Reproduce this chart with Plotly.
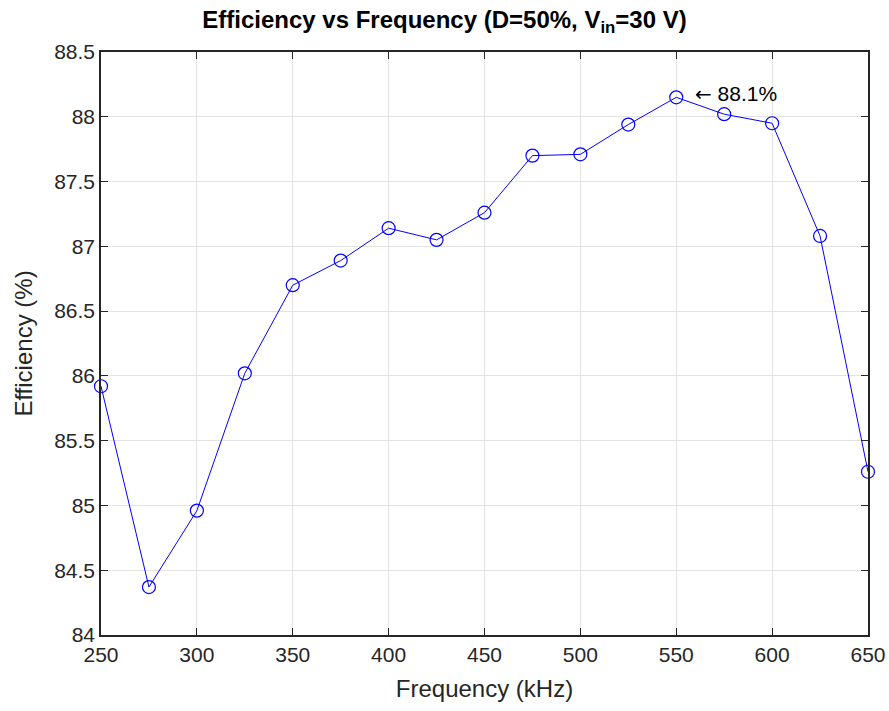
import plotly.graph_objects as go

# Measured converter efficiency at D = 50 %, Vin = 30 V
freq_khz = [250, 275, 300, 325, 350, 375, 400, 425, 450, 475, 500, 525, 550, 575, 600, 625, 650]
efficiency = [85.92, 84.37, 84.96, 86.02, 86.70, 86.89, 87.14, 87.05, 87.26, 87.70, 87.71,
              87.94, 88.15, 88.02, 87.95, 87.08, 85.26]

x_ticks = [250, 300, 350, 400, 450, 500, 550, 600, 650]
y_ticks = [84, 84.5, 85, 85.5, 86, 86.5, 87, 87.5, 88, 88.5]
y_tick_text = ["84", "84.5", "85", "85.5", "86", "86.5", "87", "87.5", "88", "88.5"]

peak_idx = efficiency.index(max(efficiency))
peak_label = '<span style="font-family:DejaVu Sans;font-size:20px">\u2190</span> 88.1%'

font_family = "Liberation Sans, Arial, sans-serif"
axis_color = "#262626"
grid_color = "#e3e3e3"

fig = go.Figure()
fig.add_trace(go.Scatter(
    x=freq_khz,
    y=efficiency,
    mode="lines+markers",
    line=dict(color="#0000ff", width=1),
    marker=dict(symbol="circle-open", size=13, color="#0000ff", line=dict(width=1.2)),
    showlegend=False,
    cliponaxis=False,
))

fig.add_annotation(
    x=freq_khz[peak_idx], y=efficiency[peak_idx],
    text=peak_label, showarrow=False,
    xanchor="left", yanchor="middle", xshift=17, yshift=3,
    font=dict(family=font_family, size=21, color="#000000"),
)

axis_common = dict(
    showline=True, linecolor=axis_color, linewidth=1.5, mirror="ticks",
    ticks="inside", ticklen=7, tickwidth=1.2, tickcolor=axis_color,
    showgrid=True, gridcolor=grid_color, gridwidth=1,
    zeroline=False, automargin=False,
    tickfont=dict(family=font_family, size=21, color=axis_color),
)

fig.update_layout(
    width=889, height=711,
    margin=dict(l=101, r=21, t=52, b=76),
    paper_bgcolor="white", plot_bgcolor="white",
    title=dict(
        text="<b>Efficiency vs Frequency (D=50%, V<sub>in</sub>=30 V)</b>",
        x=0.5, xanchor="center", y=0.972, yanchor="middle",
        font=dict(family=font_family, size=24, color="#000000"),
    ),
    xaxis=dict(
        range=[250, 650], tickvals=x_ticks,
        title=dict(text="Frequency (kHz)",
                   font=dict(family=font_family, size=24, color=axis_color)),
        **axis_common,
    ),
    yaxis=dict(
        range=[84, 88.5], tickvals=y_ticks, ticktext=y_tick_text,
        title=dict(text="Efficiency (%)",
                   font=dict(family=font_family, size=24, color=axis_color)),
        **axis_common,
    ),
)

fig.write_html("out.html")
